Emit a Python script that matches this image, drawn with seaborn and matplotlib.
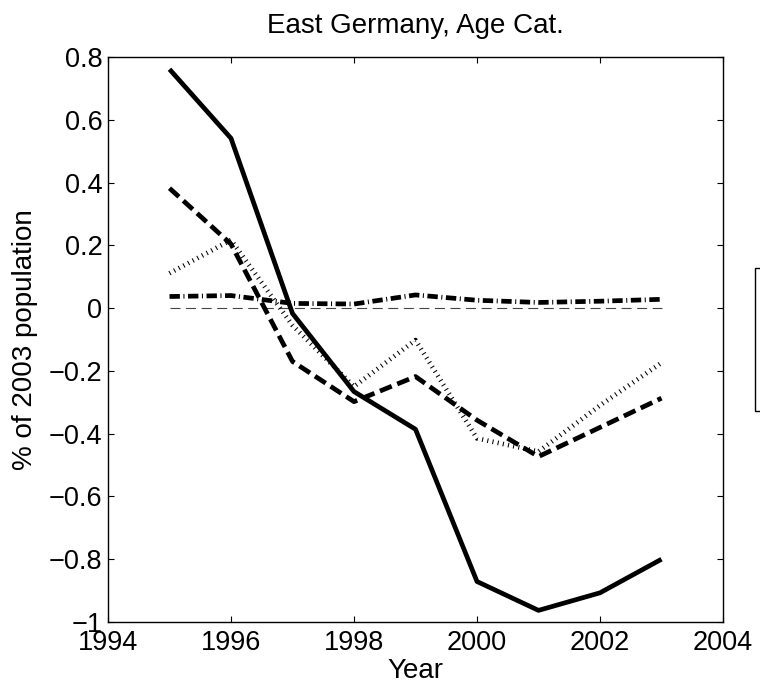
import matplotlib
matplotlib.use("Agg")
import matplotlib.pyplot as plt
import seaborn as sns
import pandas as pd
from matplotlib.patches import Rectangle

years = [1995, 1996, 1997, 1998, 1999, 2000, 2001, 2002, 2003]
series_solid = [0.761, 0.541, -0.017, -0.266, -0.386, -0.871, -0.963, -0.907, -0.800]
series_dashed = [0.382, 0.204, -0.170, -0.298, -0.218, -0.357, -0.473, -0.380, -0.287]
series_dotted = [0.111, 0.217, -0.055, -0.250, -0.102, -0.415, -0.457, -0.310, -0.174]
series_dashdot = [0.037, 0.040, 0.015, 0.013, 0.042, 0.025, 0.018, 0.022, 0.028]
zero_line = [0.0] * len(years)

title = "East Germany, Age Cat."
xlabel = "Year"
ylabel = "% of 2003 population"
xticks = [1994, 1996, 1998, 2000, 2002, 2004]
yticks = [-1, -0.8, -0.6, -0.4, -0.2, 0, 0.2, 0.4, 0.6, 0.8]
yticklabels = ["\u22121", "\u22120.8", "\u22120.6", "\u22120.4", "\u22120.2", "0", "0.2", "0.4", "0.6", "0.8"]

sns.set_theme(style="white")
plt.rcParams["font.family"] = ["Liberation Sans", "DejaVu Sans"]
plt.rcParams["lines.solid_capstyle"] = "butt"
plt.rcParams["text.color"] = "black"
plt.rcParams["axes.labelcolor"] = "black"

fig = plt.figure(figsize=(7.6, 6.88), dpi=100)
ax = fig.add_axes([108 / 760, 1 - 622 / 688, 615 / 760, 565 / 688])

df = pd.DataFrame({"year": years, "solid": series_solid, "dashed": series_dashed,
                   "dotted": series_dotted, "dashdot": series_dashdot, "zero": zero_line})

LW = 3.4
sns.lineplot(data=df, x="year", y="zero", ax=ax, color="#444444", lw=0.8,
             linestyle=(0, (9, 5)))
sns.lineplot(data=df, x="year", y="dotted", ax=ax, color="black", lw=LW,
             linestyle=(0, (0.22, 0.9)), dash_capstyle="butt")
sns.lineplot(data=df, x="year", y="dashdot", ax=ax, color="black", lw=LW,
             linestyle=(0, (2.2, 0.75, 0.22, 0.75)), dash_capstyle="butt")
sns.lineplot(data=df, x="year", y="dashed", ax=ax, color="black", lw=LW,
             linestyle=(0, (2.7, 1.25)), dash_capstyle="butt")
sns.lineplot(data=df, x="year", y="solid", ax=ax, color="black", lw=LW)

ax.set_xlim(1994, 2004)
ax.set_ylim(-1, 0.8)
ax.set_xticks(xticks)
ax.set_xticklabels([str(t) for t in xticks])
ax.set_yticks(yticks)
ax.set_yticklabels(yticklabels)
ax.tick_params(axis="both", direction="in", length=4.5, width=0.8, labelsize=19.5,
               colors="black", top=True, right=True, bottom=True, left=True)
ax.tick_params(axis="x", pad=6)
ax.tick_params(axis="y", pad=4)
for sp in ax.spines.values():
    sp.set_color("black")
    sp.set_linewidth(1.0)
    sp.set_visible(True)

ax.set_title(title, fontsize=20, pad=17, color="black")
ax.set_xlabel(xlabel, fontsize=20, labelpad=1)
ax.set_ylabel(ylabel, fontsize=20, labelpad=8)

fig.patches.append(Rectangle((755 / 760, 1 - 411 / 688), 0.2, 143 / 688,
                             transform=fig.transFigure, fill=False,
                             edgecolor="black", lw=1.0))

fig.savefig("out.png", dpi=100, facecolor="white")
